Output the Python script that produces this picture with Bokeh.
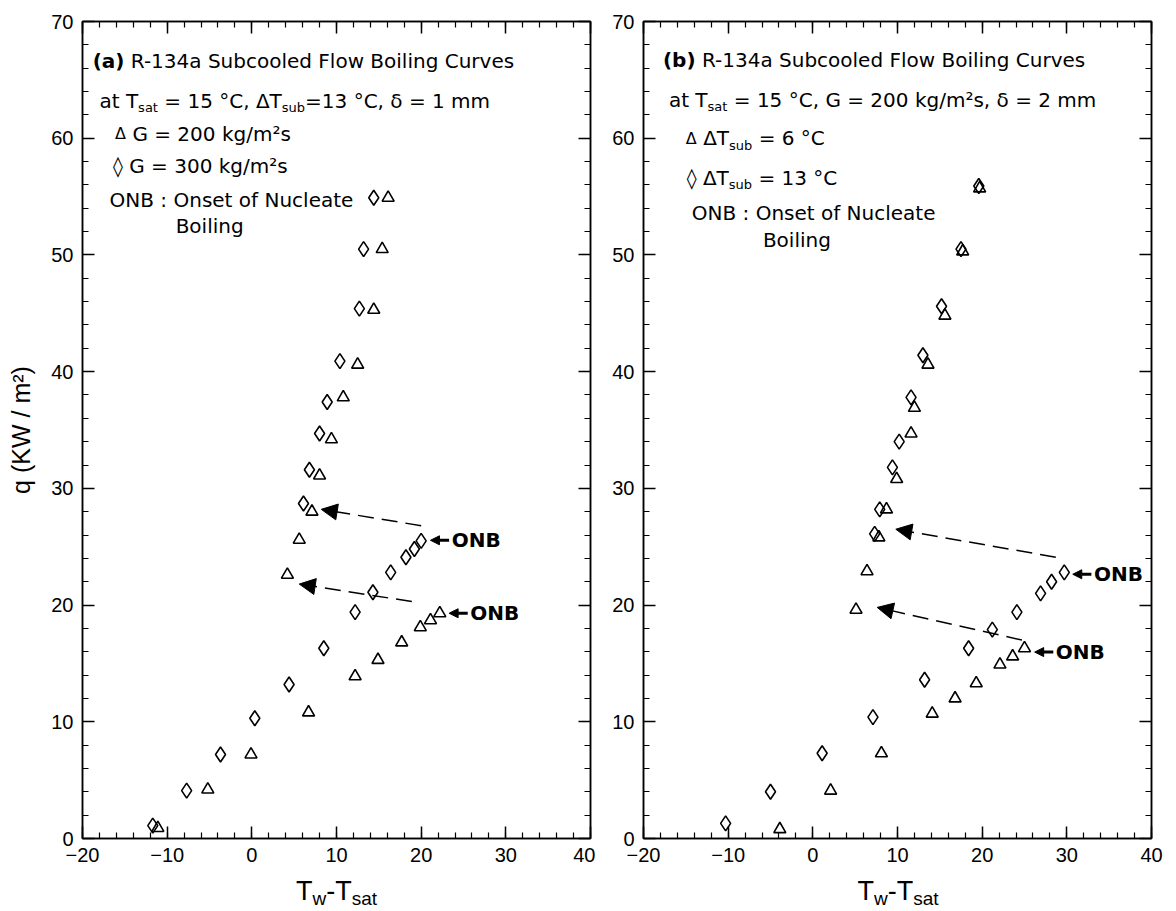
import math
from bokeh.plotting import figure
from bokeh.models import (Range1d, LinearAxis, SingleIntervalTicker, Label, Arrow,
                          NormalHead, CustomJSTickFormatter)
from bokeh.layouts import row, column
from bokeh.embed import file_html
from bokeh.resources import INLINE

# ---------------- data ----------------
# Panel (a): dTsub = 13 C, delta = 1 mm
a_g200_x = [-11.1, -5.2, -0.1, 6.7, 12.2, 14.9, 17.7, 19.9, 21.1, 22.2,
            4.2, 5.6, 7.1, 8.0, 9.4, 10.8, 12.5, 14.4, 15.4, 16.1]
a_g200_y = [0.9, 4.2, 7.2, 10.8, 13.9, 15.3, 16.8, 18.1, 18.7, 19.3,
            22.6, 25.6, 28.0, 31.1, 34.2, 37.8, 40.6, 45.3, 50.5, 54.9]
a_g300_x = [-11.7, -7.7, -3.7, 0.35, 4.4, 8.5, 12.2, 14.3, 16.4, 18.2, 19.2, 20.0,
            6.1, 6.8, 8.0, 8.9, 10.4, 12.7, 13.2, 14.4]
a_g300_y = [1.1, 4.1, 7.2, 10.3, 13.2, 16.3, 19.4, 21.1, 22.8, 24.1, 24.8, 25.5,
            28.7, 31.6, 34.7, 37.4, 40.9, 45.4, 50.5, 54.9]

# Panel (b): G = 200 kg/m2s, delta = 2 mm
b_sub6_x = [-3.9, 2.1, 8.1, 14.1, 16.8, 19.3, 22.1, 23.6, 25.0,
            5.1, 6.4, 7.8, 8.7, 9.9, 11.6, 12.0, 13.6, 15.6, 17.7, 19.7]
b_sub6_y = [0.8, 4.1, 7.3, 10.7, 12.0, 13.3, 14.9, 15.6, 16.3,
            19.6, 22.9, 25.8, 28.2, 30.8, 34.7, 36.9, 40.6, 44.8, 50.3, 55.7]
b_sub13_x = [-10.3, -5.0, 1.1, 7.1, 13.2, 18.4, 21.2, 24.1, 26.9, 28.2, 29.7,
             7.3, 7.9, 9.4, 10.2, 11.6, 13.0, 15.2, 17.5, 19.6]
b_sub13_y = [1.3, 4.0, 7.3, 10.4, 13.6, 16.3, 17.9, 19.4, 21.0, 22.0, 22.8,
             26.1, 28.2, 31.8, 34.0, 37.8, 41.4, 45.6, 50.5, 55.9]

# ONB jump arrows: (x_start, y_start, x_end, y_end)
a_jumps = [(20.0, 26.8, 8.2, 28.2), (18.9, 20.3, 5.6, 21.8)]
b_jumps = [(28.7, 24.1, 9.8, 26.5), (24.7, 17.0, 7.6, 19.8)]
# ONB markers: (arrow tip x, y)
a_onb = [(21.1, 25.55), (23.3, 19.3)]
b_onb = [(30.7, 22.64), (26.2, 15.97)]

X_RANGE = (-20, 40)
Y_RANGE = (0, 70)

# ---------------- text metrics (per em) ----------------
DJV = {' ': .318, '(': .390, ')': .390, ',': .318, '-': .361, '.': .318, '/': .337,
       ':': .337, '=': .838, 'B': .686, 'C': .698, 'F': .575, 'G': .775, 'N': .748,
       'O': .787, 'R': .695, 'S': .635, 'T': .611, 'a': .613, 'b': .635, 'c': .550,
       'd': .635, 'e': .615, 'f': .352, 'g': .635, 'i': .278, 'k': .579, 'l': .278,
       'm': .974, 'n': .634, 'o': .612, 'r': .411, 's': .521, 't': .392, 'u': .634,
       'v': .592, 'w': .818, '°': .500, 'Δ': .684, 'δ': .612, '◊': .494, '²': .401}
DJV_B = {' ': .348, '(': .457, ')': .457, 'a': .675, 'b': .716, 'O': .850, 'N': .837, 'B': .762}
LIB = {' ': .278, '-': .333, 'T': .611, 'w': .722, 's': .5, 'a': .556, 't': .278,
       'q': .556, '(': .333, ')': .333, 'K': .667, 'W': .944, '/': .278, 'm': .833, '²': .333}
for d in '0123456789':
    DJV[d] = .636
    LIB[d] = .556

ANN = "DejaVu Sans"
TICKF = "Liberation Sans"


def text_width(s, size, font, bold):
    if font == ANN:
        tbl = DJV_B if bold else DJV
        return sum(tbl.get(c, DJV.get(c, .6)) for c in s) * size
    return sum(LIB.get(c, .6) for c in s) * size


def rich(p, x, y, runs, align="left"):
    """runs: list of (text, font, size_px, bold, dy_px)"""
    widths = [text_width(t, sz, f, b) for (t, f, sz, b, dy) in runs]
    off = -sum(widths) / 2 if align == "center" else 0.0
    for (t, f, sz, b, dy), w in zip(runs, widths):
        lead = len(t) - len(t.lstrip(' '))
        s = t.strip(' ')
        lw = text_width(' ' * lead, sz, f, b)
        p.add_layout(Label(x=x, y=y, x_offset=off + lw, y_offset=dy, text=s,
                           text_font=f, text_font_size=f"{sz}px",
                           text_font_style="bold" if b else "normal",
                           text_color="black", text_baseline="middle", text_align="left"))
        off += w


def N(t, size=20):
    return (t, ANN, size, False, 0)


def B(t, size=20):
    return (t, ANN, size, True, 0)


def SUB(t):
    return (t, ANN, 13, False, -7)


def make_fig(bl, br):
    p = figure(frame_width=508, frame_height=817,
               x_range=Range1d(*X_RANGE), y_range=Range1d(*Y_RANGE),
               x_axis_type=None, y_axis_type=None,
               output_backend="svg", toolbar_location=None,
               min_border_left=bl, min_border_right=br,
               min_border_top=21, min_border_bottom=34,
               background_fill_color="white", border_fill_color="white")
    p.outline_line_color = "black"
    p.outline_line_width = 1.5
    axes = {}
    for loc in ["below", "left", "above", "right"]:
        ax = LinearAxis(ticker=SingleIntervalTicker(interval=10, num_minor_ticks=5))
        ax.axis_line_color = "black"
        ax.axis_line_width = 1.5
        ax.major_tick_in = 12
        ax.major_tick_out = 0
        ax.minor_tick_in = 6
        ax.minor_tick_out = 0
        ax.major_tick_line_width = 1.5
        ax.minor_tick_line_width = 1.2
        ax.major_tick_line_color = "black"
        ax.minor_tick_line_color = "black"
        if loc in ("above", "right"):
            ax.formatter = CustomJSTickFormatter(code="return ''")
            ax.major_label_text_font_size = "1px"
            ax.major_label_standoff = 0
        else:
            ax.major_label_text_font = TICKF
            ax.major_label_text_font_size = "20px"
            ax.major_label_text_color = "black"
            ax.major_label_standoff = 9
        p.add_layout(ax, loc)
        axes[loc] = ax
    return p, axes


def label_fig(bl, br):
    q = figure(frame_width=508 if bl == 82 else 509, frame_height=37,
               x_range=Range1d(*X_RANGE), y_range=Range1d(0, 1),
               x_axis_type=None, y_axis_type=None,
               output_backend="svg", toolbar_location=None,
               min_border_left=bl, min_border_right=br,
               min_border_top=0, min_border_bottom=0,
               background_fill_color="white", border_fill_color="white")
    q.outline_line_color = None
    rich(q, 10, 0.5, [("T", TICKF, 27, False, 0), ("w", TICKF, 19, False, -7),
                      ("-T", TICKF, 27, False, 0), ("sat", TICKF, 19, False, -7)],
         align="center")
    return q


def draw_series(p, tx, ty, dx, dy):
    p.scatter(tx, ty, marker="triangle", size=12, fill_color=None,
              line_color="black", line_width=1.6)
    p.scatter(dx, dy, marker="diamond", size=15, fill_color=None,
              line_color="black", line_width=1.6)


def draw_jumps(p, jumps, onbs):
    for (x0, y0, x1, y1) in jumps:
        p.add_layout(Arrow(end=NormalHead(size=16, fill_color="black", line_color="black",
                                          line_width=1),
                           x_start=x0, y_start=y0, x_end=x1, y_end=y1,
                           line_color="black", line_width=1.5, line_dash="16 8"))
    for (xt, yt) in onbs:
        p.add_layout(Arrow(end=NormalHead(size=9, fill_color="black", line_color="black",
                                          line_width=1),
                           x_start=xt + 2.2, y_start=yt, x_end=xt, y_end=yt,
                           line_color="black", line_width=3))
        p.add_layout(Label(x=xt + 2.5, y=yt, text="ONB", text_font=ANN,
                           text_font_size="20px", text_font_style="bold",
                           text_color="black", text_baseline="middle", text_align="left"))


# ---------------- panel (a) ----------------
pa, axa = make_fig(82, 5)
axa["left"].axis_label = "q (KW / m²)"
axa["left"].axis_label_text_font = TICKF
axa["left"].axis_label_text_font_size = "25px"
axa["left"].axis_label_text_font_style = "normal"
axa["left"].axis_label_text_color = "black"
axa["left"].axis_label_standoff = 13
draw_series(pa, a_g200_x, a_g200_y, a_g300_x, a_g300_y)
draw_jumps(pa, a_jumps, a_onb)
rich(pa, -18.8, 66.6, [B("(a)"), N(" R-134a Subcooled Flow Boiling Curves")])
rich(pa, -18.0, 63.2, [N("at T"), SUB("sat"), N(" = 15 °C, ΔT"), SUB("sub"), N("=13 °C, δ = 1 mm")])
rich(pa, -16.15, 60.4, [N("Δ", 16), N(" G = 200 kg/m²s")])
rich(pa, -16.4, 57.6, [N("◊"), N(" G = 300 kg/m²s")])
rich(pa, -16.8, 54.7, [N("ONB : Onset of Nucleate")])
rich(pa, -9.0, 52.5, [N("Boiling")])

# ---------------- panel (b) ----------------
pb, axb = make_fig(48, 16)
draw_series(pb, b_sub6_x, b_sub6_y, b_sub13_x, b_sub13_y)
draw_jumps(pb, b_jumps, b_onb)
rich(pb, -17.7, 66.7, [B("(b)"), N(" R-134a Subcooled Flow Boiling Curves")])
rich(pb, -17.0, 63.3, [N("at T"), SUB("sat"), N(" = 15 °C, G = 200 kg/m²s, δ = 2 mm")])
rich(pb, -15.0, 60.0, [N("Δ", 16), N(" ΔT"), SUB("sub"), N(" = 6 °C")])
rich(pb, -14.9, 56.6, [N("◊"), N(" ΔT"), SUB("sub"), N(" = 13 °C")])
rich(pb, -14.3, 53.6, [N("ONB : Onset of Nucleate")])
rich(pb, -5.9, 51.3, [N("Boiling")])

la = label_fig(82, 5)
lb = label_fig(48, 16)

layout = column(row(pa, pb), row(la, lb))
open("out.html", "w").write(file_html(layout, INLINE))
